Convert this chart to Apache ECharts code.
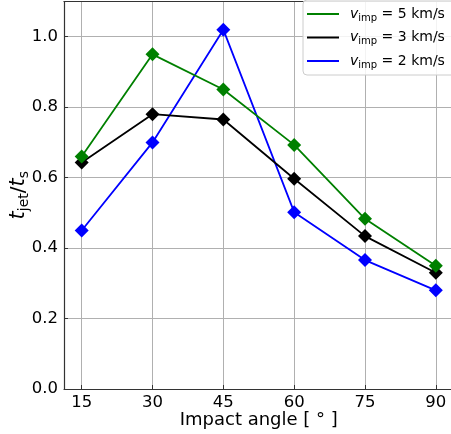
<!DOCTYPE html>
<html><head><meta charset="utf-8">
<script src="https://cdn.jsdelivr.net/npm/echarts@6/dist/echarts.min.js"></script>
<style>html,body{margin:0;padding:0;background:#fff}#c{width:451px;height:434px}</style>
</head><body><div id="c"></div>
<script>
const angles = [15, 30, 45, 60, 75, 90];
const v5 = [0.660, 0.950, 0.850, 0.693, 0.483, 0.350];
const v3 = [0.643, 0.780, 0.765, 0.597, 0.434, 0.330];
const v2 = [0.450, 0.700, 1.020, 0.502, 0.366, 0.280];
const xTicks = [15, 30, 45, 60, 75, 90];
const yTicks = [0, 0.2, 0.4, 0.6, 0.8, 1.0];
const legendSpeeds = { s5: '5', s3: '3', s2: '2' };

const FONT = 'DejaVu Sans';
const AX = '#333';
const chart = echarts.init(document.getElementById('c'), null, { renderer: 'canvas' });

function pts(vals) { return angles.map((a, i) => [a, vals[i]]); }
function mkSeries(name, vals, color, z) {
  return {
    name: name, type: 'line', data: pts(vals), z: z,
    symbol: 'diamond', symbolSize: 14,
    lineStyle: { color: color, width: 1.8 },
    itemStyle: { color: color },
    emphasis: { disabled: true }, animation: false
  };
}

chart.setOption({
  animation: false,
  textStyle: { fontFamily: FONT },
  grid: { left: 64, top: 1.5, width: 389.5, height: 387.5, show: false,
    containLabel: false, outerBoundsMode: 'none' },
  legend: {
    data: ['s5', 's3', 's2'],
    orient: 'vertical', left: 303, top: 0,
    padding: [5, 16, 5, 4],
    itemWidth: 32, itemHeight: 2, itemGap: 5.5,
    icon: 'rect',
    backgroundColor: 'rgba(255,255,255,0.85)',
    borderColor: '#cccccc', borderWidth: 1, borderRadius: 4,
    formatter: function (n) { return '{v|v}{s|imp}{t| = ' + legendSpeeds[n] + ' km/s}'; },
    textStyle: {
      fontFamily: FONT, color: '#000', fontSize: 14, lineHeight: 18,
      rich: {
        v: { fontFamily: FONT, fontStyle: 'italic', fontSize: 14, lineHeight: 18, color: '#000', padding: [0, 0, 0, 6] },
        s: { fontFamily: FONT, fontSize: 10, lineHeight: 10, verticalAlign: 'bottom', color: '#000' },
        t: { fontFamily: FONT, fontSize: 14, lineHeight: 18, color: '#000' }
      }
    }
  },
  xAxis: [{
    type: 'value', min: 11.25, max: 93.75,
    name: 'Impact angle [ ° ]', nameLocation: 'middle', nameGap: 22, nameMoveOverlap: false,
    nameTextStyle: { fontFamily: FONT, fontSize: 18, color: '#000' },
    axisLine: { show: true, lineStyle: { color: AX, width: 1.2 } },
    axisTick: { show: true, inside: true, length: 4, customValues: xTicks, lineStyle: { color: AX } },
    axisLabel: { customValues: xTicks, fontFamily: FONT, fontSize: 16.5, color: '#000', margin: 5 },
    splitLine: { show: true, lineStyle: { color: '#b0b0b0', width: 1 } }
  }, {
    type: 'value', min: 11.25, max: 93.75, position: 'top',
    axisLine: { show: true, onZero: false, lineStyle: { color: AX, width: 1.2 } },
    axisTick: { show: false }, axisLabel: { show: false }, splitLine: { show: false }
  }],
  yAxis: {
    type: 'value', min: 0, max: 1.1,
    name: '{i|t}{s|jet}{n|/}{i|t}{s|s}', nameLocation: 'middle', nameGap: 33, nameRotate: 90, nameMoveOverlap: false,
    nameTextStyle: {
      fontFamily: FONT, fontSize: 20, color: '#000', lineHeight: 24,
      rich: {
        i: { fontFamily: FONT, fontStyle: 'italic', fontSize: 21, lineHeight: 24, color: '#000' },
        n: { fontFamily: FONT, fontSize: 20, lineHeight: 24, color: '#000' },
        s: { fontFamily: FONT, fontSize: 14, lineHeight: 14, verticalAlign: 'bottom', color: '#000' }
      }
    },
    axisLine: { show: true, lineStyle: { color: AX, width: 1.2 } },
    axisTick: { show: true, inside: true, length: 4, customValues: yTicks, lineStyle: { color: AX } },
    axisLabel: { customValues: yTicks, fontFamily: FONT, fontSize: 16.5, color: '#000', margin: 6,
      formatter: function (v) { return v.toFixed(1); } },
    splitLine: { show: true, lineStyle: { color: '#b0b0b0', width: 1 } }
  },
  series: [
    mkSeries('s2', v2, '#0000ff', 2),
    mkSeries('s3', v3, '#000000', 3),
    mkSeries('s5', v5, '#008000', 4)
  ]
});
</script></body></html>
